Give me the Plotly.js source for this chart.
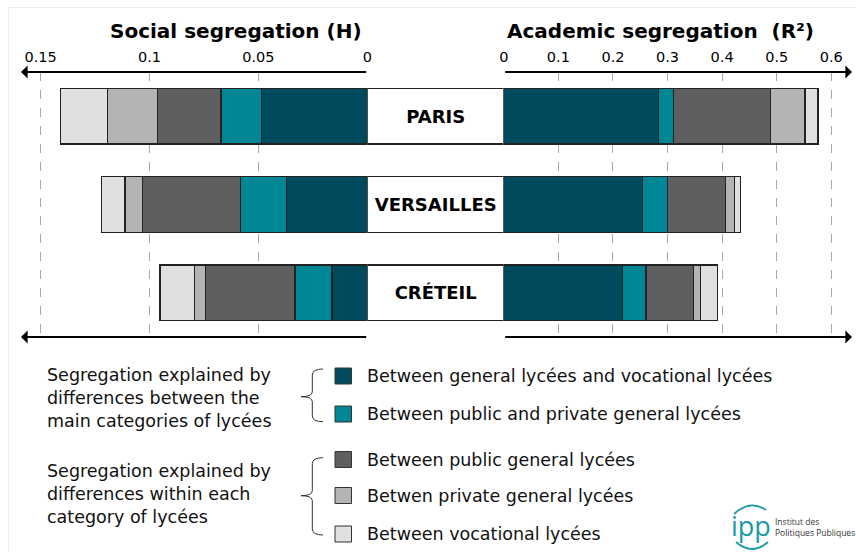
<!DOCTYPE html>
<html>
<head>
<meta charset="utf-8">
<script src="https://cdn.plot.ly/plotly-3.0.1.min.js"></script>
<style>html,body{margin:0;padding:0;background:#fff;}#chart{width:856px;height:552px;}</style>
</head>
<body>
<div id="chart"></div>
<script>
// ---------- DATA ----------
const academies = ["PARIS", "VERSAILLES", "CRÉTEIL"];

// Social segregation (H)
const socialGenVoc  = [0.0485, 0.037, 0.0162];
const socialPubPriv = [0.0187, 0.0211, 0.017];
const socialPubGen  = [0.029, 0.0451, 0.041];
const socialPrivGen = [0.0231, 0.0081, 0.005];
const socialVoc     = [0.0217, 0.0109, 0.016];

// Academic segregation (R²)
const academicGenVoc  = [0.283, 0.2546, 0.217];
const academicPubPriv = [0.0275, 0.045, 0.0434];
const academicPubGen  = [0.178, 0.106, 0.0874];
const academicPrivGen = [0.0634, 0.0165, 0.0121];
const academicVoc     = [0.0238, 0.0122, 0.031];

const socialTickVals = [0, 0.05, 0.1, 0.15];
const socialTickText = ["0", "0.05", "0.1", "0.15"];
const academicTickVals = [0, 0.1, 0.2, 0.3, 0.4, 0.5, 0.6];
const academicTickText = ["0", "0.1", "0.2", "0.3", "0.4", "0.5", "0.6"];

const seriesNames = [
  "Between general lycées and vocational lycées",
  "Between public and private general lycées",
  "Between public general lycées",
  "Betwen private general lycées",
  "Between vocational lycées"
];
const groupLabels = [
  "Segregation explained by<br>differences between the<br>main categories of lycées",
  "Segregation explained by<br>differences within each<br>category of lycées"
];
const socialTitle = "Social segregation (H)";
const academicTitle = "Academic segregation  (R²)";

// ---------- STYLE ----------
const colors = ["#004a5d", "#008796", "#5e5f61", "#b4b4b4", "#e0e0e0"];
const W = 856, H = 552;
const px = x => x / W;
const py = y => 1 - y / H;
const FONT = "DejaVu Sans";
const barW = 0.63;
const outline = {color: "#222", width: 1.2};

const socialSeries = [socialGenVoc, socialPubPriv, socialPubGen, socialPrivGen, socialVoc];
const academicSeries = [academicGenVoc, academicPubPriv, academicPubGen, academicPrivGen, academicVoc];

const traces = [];
socialSeries.forEach((vals, i) => {
  traces.push({type: "bar", orientation: "h", x: vals, y: academies, xaxis: "x", yaxis: "y",
    name: seriesNames[i], width: barW, marker: {color: colors[i], line: outline}, hoverinfo: "x+name"});
});
academicSeries.forEach((vals, i) => {
  traces.push({type: "bar", orientation: "h", x: vals, y: academies, xaxis: "x2", yaxis: "y",
    name: seriesNames[i], width: barW, marker: {color: colors[i], line: outline}, hoverinfo: "x+name"});
});
// Central label boxes
traces.push({type: "bar", orientation: "h", x: academies.map(() => 1), y: academies, xaxis: "x3", yaxis: "y",
  width: barW, marker: {color: "#ffffff", line: outline}, text: academies,
  texttemplate: "<b>%{text}</b>", textposition: "inside", insidetextanchor: "middle",
  textfont: {family: FONT, size: 18, color: "#000"}, hoverinfo: "skip"});

const sL = 22, s0 = 367.7, a0 = 503.7, aR = 850;
const socialPxPerUnit = 2180, academicPxPerUnit = 546;

const annotations = [];
const A = (o) => annotations.push(Object.assign({xref: "paper", yref: "paper", showarrow: false,
  xanchor: "center", yanchor: "middle"}, o));
// Titles
A({x: px(236), y: py(31), text: "<b>" + socialTitle + "</b>", font: {family: FONT, size: 20, color: "#000"}});
A({x: px(660), y: py(31), text: "<b>" + academicTitle + "</b>", font: {family: FONT, size: 20, color: "#000"}});
// Axis arrows
function arrow(xh, y, xt) {
  annotations.push({xref: "paper", yref: "paper", x: px(xh), y: py(y), ax: xt - xh, ay: 0, text: "",
    showarrow: true, arrowhead: 1, arrowsize: 1.1, arrowwidth: 2, arrowcolor: "#000", standoff: 0, startstandoff: 0});
}
arrow(21, 72, s0); arrow(852, 72, a0);
arrow(21, 337, s0); arrow(852, 337, a0);

// Legend
const legendY = [376, 414, 459.5, 495.5, 534];
const shapes = [];
const legFont = {family: FONT, size: 17.5, color: "#111"};
legendY.forEach((y, i) => {
  shapes.push({type: "rect", xref: "paper", yref: "paper", x0: px(335), x1: px(351.5), y0: py(y - 8), y1: py(y + 8),
    fillcolor: colors[i], line: {color: "#333", width: 1}});
  A({x: px(365), y: py(y), xanchor: "left", text: seriesNames[i], font: legFont});
});
A({x: px(45), y: py(397.5), xanchor: "left", align: "left", text: groupLabels[0], font: legFont});
A({x: px(45), y: py(494), xanchor: "left", align: "left", text: groupLabels[1], font: legFont});

function brace(top, bot, mid) {
  const xv = 312.3, xh = 323, xt = 301;
  const P = (x, y) => px(x).toFixed(5) + "," + py(y).toFixed(5);
  return "M " + P(xh, top) + " Q " + P(xv, top) + " " + P(xv, top + 6) +
    " L " + P(xv, mid - 5) + " Q " + P(xv, mid) + " " + P(xt, mid) +
    " Q " + P(xv, mid) + " " + P(xv, mid + 5) +
    " L " + P(xv, bot - 6) + " Q " + P(xv, bot) + " " + P(xh, bot);
}
shapes.push({type: "path", xref: "paper", yref: "paper", path: brace(369, 421.7, 396.7), line: {color: "#333", width: 1}});
shapes.push({type: "path", xref: "paper", yref: "paper", path: brace(457.7, 535, 495.7), line: {color: "#333", width: 1}});

// Faint frame
shapes.push({type: "rect", xref: "paper", yref: "paper", x0: px(8.5), x1: px(860), y0: py(7.5), y1: py(560),
  line: {color: "#eeeeee", width: 1}, layer: "below"});

// Logo
const Pp = (x, y) => px(x).toFixed(5) + "," + py(y).toFixed(5);
shapes.push({type: "path", xref: "paper", yref: "paper", path: "M " + Pp(734, 514) + " Q " + Pp(750, 499) + " " + Pp(766, 510),
  line: {color: "#1a9aa5", width: 1.8}});
shapes.push({type: "path", xref: "paper", yref: "paper", path: "M " + Pp(736, 542) + " Q " + Pp(752, 556) + " " + Pp(768, 542),
  line: {color: "#1a9aa5", width: 1.8}});
A({x: px(751), y: py(525), text: "ipp", font: {family: "Open Sans", size: 27, color: "#1a9aa5"}});
A({x: px(773), y: py(521), xanchor: "left", text: "Institut des", font: {family: "Open Sans", size: 8.5, color: "#333"}});
A({x: px(773), y: py(532), xanchor: "left", text: "Politiques Publiques", font: {family: "Open Sans", size: 8.5, color: "#333"}});

const tickFont = {family: FONT, size: 14.5, color: "#000"};
const layout = {
  width: W, height: H,
  margin: {l: 0, r: 0, t: 0, b: 0},
  paper_bgcolor: "#fff", plot_bgcolor: "rgba(0,0,0,0)",
  barmode: "stack", showlegend: false, bargap: 0,
  font: {family: FONT},
  xaxis: {domain: [px(sL), px(s0)], range: [(s0 - sL) / socialPxPerUnit, -0.0002], side: "top", anchor: "y",
    tickvals: socialTickVals, ticktext: socialTickText, tickfont: tickFont, ticks: "", ticklabelstandoff: 6,
    showgrid: true, gridcolor: "#a8a8a8", griddash: "dash", gridwidth: 1, zeroline: false, showline: false, fixedrange: true},
  xaxis2: {domain: [px(a0), px(aR)], range: [-0.0002, (aR - a0) / academicPxPerUnit], side: "top", anchor: "y",
    tickvals: academicTickVals, ticktext: academicTickText, tickfont: tickFont, ticks: "", ticklabelstandoff: 6,
    showgrid: true, gridcolor: "#a8a8a8", griddash: "dash", gridwidth: 1, zeroline: false, showline: false, fixedrange: true},
  xaxis3: {domain: [px(s0), px(a0)], range: [0, 1], anchor: "y", visible: false, fixedrange: true},
  yaxis: {domain: [py(337), py(72)], type: "category", range: [2.5, -0.5], showticklabels: false,
    showgrid: false, zeroline: false, showline: false, fixedrange: true},
  annotations: annotations,
  shapes: shapes
};

Plotly.newPlot("chart", traces, layout, {displayModeBar: false, staticPlot: true});
</script>
</body>
</html>
